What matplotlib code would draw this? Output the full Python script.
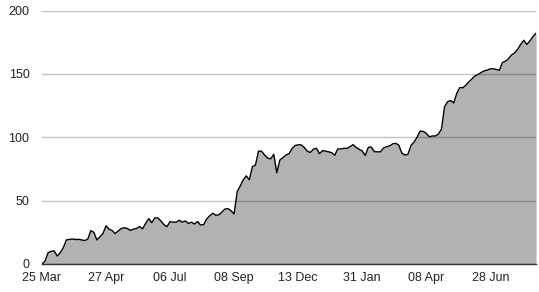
import matplotlib
matplotlib.use("Agg")
import matplotlib.pyplot as plt
import numpy as np

values = [
    0, 2.4, 8.9, 10, 10.3, 6.3, 9, 13, 19, 19.4,
    19.7, 19.3, 19.5, 19, 18.5, 19.5, 26.3, 25, 19, 21.5,
    24, 30.2, 27.5, 26.4, 24, 26, 28, 28.6, 28, 26.5,
    27.5, 28, 29.5, 27.8, 32.1, 35.8, 32.6, 36.4, 36.3, 34,
    31, 29.5, 33.4, 33, 33, 34.5, 33, 34, 32, 33,
    31.5, 33.5, 30.8, 31, 35.5, 38, 40, 38.5, 38.8, 41,
    43.4, 43.7, 42, 39.5, 57, 61.5, 66.5, 69.5, 66.5, 76.8,
    78, 89, 89, 86, 83.5, 83, 86.5, 72, 82, 83.9,
    86, 87, 91, 93.5, 94, 94, 92, 89, 88, 90.6,
    91.3, 87, 89.5, 89, 88.5, 87.8, 85.8, 90.8, 90.7, 91.3,
    91.2, 92.5, 94.2, 92, 90.5, 89.2, 85.6, 92, 92.3, 88.6,
    88.5, 88.5, 91.5, 92.5, 93.2, 94.8, 95.2, 93.8, 87.5, 86,
    86.5, 93.5, 96.2, 100, 104.9, 104.6, 103.2, 100.4, 101, 101,
    102.5, 106.5, 124, 128, 129, 127, 134.5, 139.2, 139, 141,
    143.8, 146, 148.4, 149.6, 151, 152.4, 152.9, 154, 154, 153.5,
    152.8, 159, 160, 162, 165, 166.5, 169.5, 173.3, 176.5, 173.2,
    176, 179.5, 182,
]
tick_labels = ["25 Mar", "27 Apr", "06 Jul", "08 Sep", "13 Dec", "31 Jan", "08 Apr", "28 Jun"]
tick_step = 21
y_ticks = [0, 50, 100, 150, 200]

plt.rcParams['font.family'] = ['Liberation Sans', 'DejaVu Sans']

fig = plt.figure(figsize=(5.39, 2.92), dpi=100)
ax = fig.add_axes([42/539, 28/292, 494/539, 253.5/292])

x = np.arange(len(values))
ax.fill_between(x, 0, values, color="black", alpha=0.3, linewidth=0, zorder=2)
ax.plot(x, values, color="black", linewidth=1.0, zorder=3)

ax.set_xlim(0, len(values) - 1)
ax.set_ylim(0, 200)
ax.set_yticks(y_ticks)
ax.set_yticklabels([str(v) for v in y_ticks])
ax.set_xticks(np.arange(len(tick_labels)) * tick_step)
ax.set_xticklabels(tick_labels)

ax.yaxis.grid(True, color="#c4c4c4", linewidth=1.0, zorder=1)
ax.set_axisbelow(True)
for s in ["top", "right", "left"]:
    ax.spines[s].set_visible(False)
ax.spines["bottom"].set_color("#333333")
ax.spines["bottom"].set_linewidth(1.0)
ax.spines["bottom"].set_zorder(4)
ax.tick_params(axis="both", length=0, labelsize=9, labelcolor="#222222")
ax.tick_params(axis="y", pad=9)
ax.tick_params(axis="x", pad=5.5)

fig.savefig("out.png", dpi=100)
